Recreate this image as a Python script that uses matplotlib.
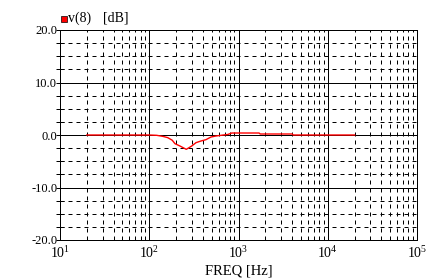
import matplotlib
matplotlib.use("Agg")
import matplotlib.pyplot as plt
from matplotlib.patches import Rectangle
import numpy as np

plt.rcParams['font.family'] = ['Liberation Serif', 'DejaVu Serif']
plt.rcParams['mathtext.fontset'] = 'custom'
plt.rcParams['mathtext.rm'] = 'Liberation Serif'
plt.rcParams['mathtext.it'] = 'Liberation Serif'
plt.rcParams['lines.scale_dashes'] = False

freq = [20, 50, 100, 121, 141, 161, 181, 194, 221, 260, 299, 334, 380, 432, 492, 560, 676,
        760, 840, 1700, 1750, 4000, 4100, 20000]
db = [0.0, 0.0, 0.0, -0.06, -0.25, -0.5, -1.0, -1.65, -2.1, -2.73, -2.1, -1.46, -1.14, -0.89,
      -0.38, -0.19, 0.0, 0.1, 0.38, 0.38, 0.19, 0.19, 0.0, 0.0]
xticks = [1e1, 1e2, 1e3, 1e4, 1e5]
xticklabels = ['$10^{1}$', '$10^{2}$', '$10^{3}$', '$10^{4}$', '$10^{5}$']
yticks = [-20, -10, 0, 10, 20]
yticklabels = ['-20.0', '-10.0', '0.0', '10.0', '20.0']

fig = plt.figure(figsize=(4.48, 2.8), dpi=100)
ax = fig.add_axes([60/448, 1-240/280, 357/448, 210/280])
ax.set_xscale('log')
ax.set_xlim(10, 1e5)
ax.set_ylim(-20, 20)

px = 0.72
# minor grid
dash = (0, (4*px, 4*px))
for d in range(1, 5):
    for m in range(2, 10):
        ax.axvline(m*10**d, color='black', lw=px, linestyle=dash, zorder=1)
for y in np.arange(-17.5, 20, 2.5):
    if y % 10 != 0:
        ax.axhline(y, color='black', lw=px, linestyle=dash, zorder=1)
# major grid
for x in xticks[1:-1]:
    ax.axvline(x, color='black', lw=px, zorder=1)
for y in yticks[1:-1]:
    ax.axhline(y, color='black', lw=px, zorder=1)

ax.plot(freq, db, color='red', lw=1.0, zorder=3)

ax.set_xticks(xticks)
ax.set_xticklabels(xticklabels, fontsize=10)
ax.set_yticks(yticks)
ax.set_yticklabels(yticklabels, fontsize=9)
ax.set_yticks(np.arange(-20, 20.1, 2.5), minor=True)
ax.xaxis.set_minor_locator(matplotlib.ticker.NullLocator())
ax.tick_params(axis='y', which='both', direction='inout', length=6, width=px, pad=-1)
ax.tick_params(axis='x', which='both', length=0, pad=4)
for s in ax.spines.values():
    s.set_linewidth(px)
ax.set_xlabel('FREQ [Hz]', fontsize=10.5, labelpad=2)

fig.patches.append(Rectangle((61/448, 1-22/280), 6/448, 6/280, transform=fig.transFigure,
                             facecolor='red', edgecolor='black', lw=0.5))
fig.text(68/448, 1-18/280, 'v(8)', fontsize=10, va='center', ha='left')
fig.text(103/448, 1-18/280, '[dB]', fontsize=10, va='center', ha='left')

fig.savefig('out.png', dpi=100, facecolor='white')
